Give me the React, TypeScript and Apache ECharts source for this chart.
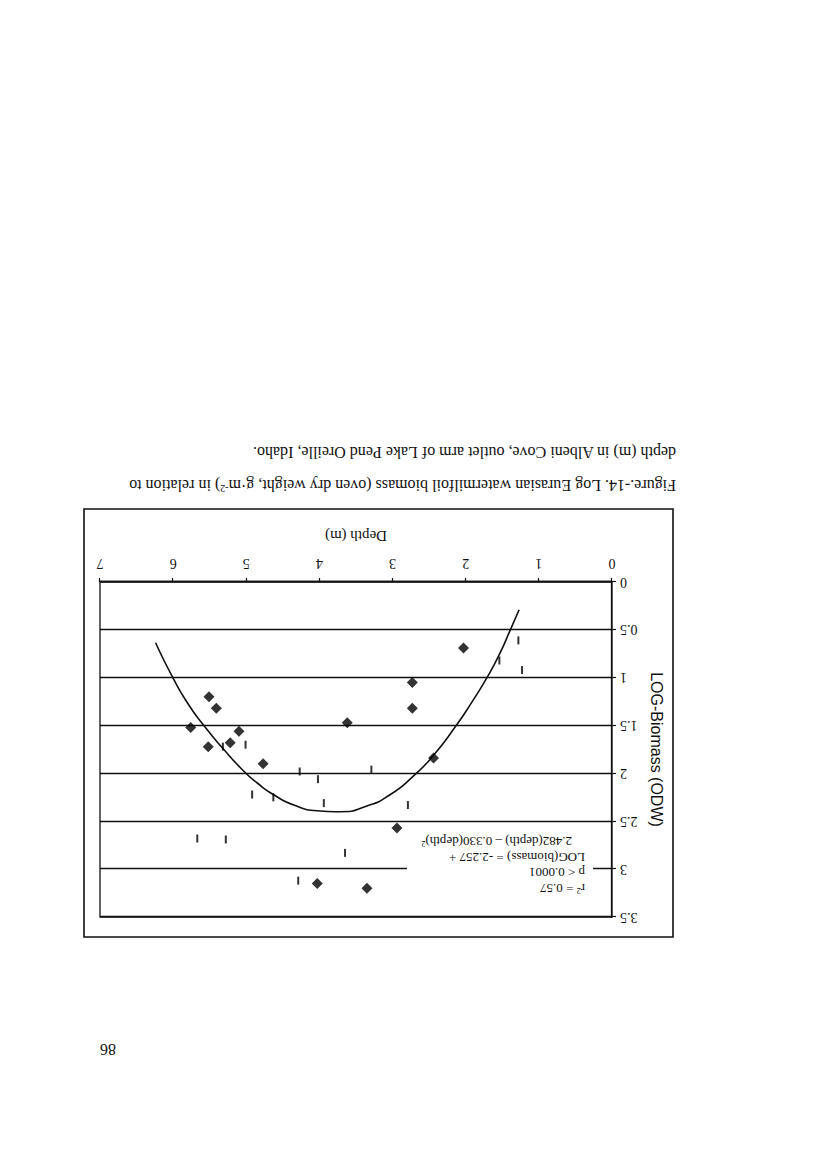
import React, { useEffect, useRef } from "react";
import * as echarts from "echarts";

// Depth (m), LOG-Biomass (ODW)
const diamondPoints: number[][] = [
  [2.03, 0.69], [2.73, 1.05], [2.73, 1.32], [2.44, 1.84], [3.62, 1.47],
  [5.51, 1.2], [5.41, 1.32], [5.76, 1.52], [5.1, 1.56], [5.52, 1.72],
  [5.22, 1.68], [4.77, 1.9], [2.94, 2.57], [4.03, 3.15], [3.35, 3.2],
];

const barPoints: number[][] = [
  [1.28, 0.61], [1.54, 0.82], [1.23, 0.92], [5.32, 1.72], [5.01, 1.7],
  [4.27, 1.98], [4.02, 2.06], [3.29, 1.96], [4.92, 2.22], [4.63, 2.25],
  [3.94, 2.31], [2.79, 2.33], [5.67, 2.68], [5.28, 2.69], [3.65, 2.83],
  [4.29, 3.12],
];

const fitCurve: number[][] = [
  [1.27, 0.29], [1.39, 0.5], [1.53, 0.74], [1.71, 1.0], [1.92, 1.26],
  [2.14, 1.51], [2.44, 1.81], [2.72, 2.03], [3.03, 2.22], [3.35, 2.34],
  [3.72, 2.4], [4.03, 2.39], [4.35, 2.33], [4.63, 2.22], [4.85, 2.1],
  [5.03, 1.98], [5.33, 1.73], [5.58, 1.5], [5.79, 1.28], [5.99, 1.02],
  [6.24, 0.635],
];

const captionLines: string[] = [
  "Figure.-14. Log Eurasian watermilfoil biomass (oven dry weight, g·m{sup|-2}) in relation to",
  "depth (m) in Albeni Cove, outlet arm of Lake Pend Oreille, Idaho.",
];

const equationLines: string[] = [
  "r{sup|2} = 0.57",
  "p < 0.0001",
  "LOG(biomass) = -2.257 +",
  "2.482(depth) – 0.330(depth){sup|2}",
];

const pageNumber = "86";

const INK = "#111111";
const SERIF = "'Liberation Serif', 'Times New Roman', serif";
const SANS = "'Liberation Sans', Arial, sans-serif";

export default function App() {
  const ref = useRef<HTMLDivElement>(null);

  useEffect(() => {
    if (!ref.current) return;
    const chart = echarts.init(ref.current, undefined, { renderer: "svg" });

    const eqTops = [281, 297, 312, 328];
    const eqX = [242, 242, 242, 255];

    const graphic: any[] = [
      {
        type: "rect",
        z: 1,
        shape: { x: 154, y: 232, width: 589, height: 428 },
        style: { fill: "none", stroke: INK, lineWidth: 1.6 },
      },
      {
        type: "rect",
        z: 100,
        shape: { x: 234, y: 268, width: 186, height: 72 },
        style: { fill: "#ffffff", stroke: "none" },
      },
      ...equationLines.map((t, i) => ({
        type: "text",
        z: 101,
        x: eqX[i],
        y: eqTops[i],
        style: {
          text: t,
          fontSize: 13,
          fontFamily: SERIF,
          fill: INK,
          align: "left",
          verticalAlign: "middle",
          rich: { sup: { fontSize: 8, fontFamily: SERIF, fill: INK, verticalAlign: "top", lineHeight: 8 } },
        },
      })),
      ...captionLines.map((t, i) => ({
        type: "text",
        z: 101,
        x: 151,
        y: 684 + i * 33,
        style: {
          text: t,
          fontSize: 16,
          fontFamily: SERIF,
          fill: INK,
          align: "left",
          verticalAlign: "middle",
          rich: { sup: { fontSize: 10, fontFamily: SERIF, fill: INK, verticalAlign: "top", lineHeight: 10 } },
        },
      })),
      {
        type: "text",
        z: 101,
        x: 719,
        y: 120,
        style: {
          text: pageNumber,
          fontSize: 16,
          fontFamily: SERIF,
          fill: INK,
          align: "center",
          verticalAlign: "middle",
        },
      },
    ];

    chart.setOption({
      animation: false,
      backgroundColor: "#ffffff",
      grid: {
        left: 215,
        top: 252,
        width: 512,
        height: 335,
        show: true,
        borderColor: INK,
        borderWidth: 1.3,
        backgroundColor: "transparent",
      },
      xAxis: {
        type: "value",
        min: 0,
        max: 7,
        interval: 1,
        name: "Depth (m)",
        nameLocation: "middle",
        nameGap: 39,
        nameTextStyle: { fontFamily: SERIF, fontSize: 15, color: INK },
        axisLine: { show: true, onZero: false, lineStyle: { color: INK, width: 1.3 } },
        axisTick: { show: true, length: 4, lineStyle: { color: INK, width: 1.2 } },
        axisLabel: { fontFamily: SERIF, fontSize: 14, color: INK, margin: 12 },
        splitLine: { show: false },
      },
      yAxis: {
        type: "value",
        min: 0,
        max: 3.5,
        interval: 0.5,
        name: "LOG-Biomass (ODW)",
        nameLocation: "middle",
        nameRotate: 90,
        nameGap: 32,
        nameTextStyle: { fontFamily: SANS, fontSize: 16, color: INK },
        axisLine: { show: true, onZero: false, lineStyle: { color: INK, width: 1.3 } },
        axisTick: { show: true, length: 4, lineStyle: { color: INK, width: 1.2 } },
        axisLabel: { fontFamily: SERIF, fontSize: 14, color: INK, margin: 8 },
        splitLine: { show: true, lineStyle: { color: INK, width: 1.3 } },
      },
      series: [
        {
          type: "line",
          name: "fit",
          data: fitCurve,
          smooth: 0.6,
          symbol: "none",
          lineStyle: { color: INK, width: 1.6 },
          z: 3,
        },
        {
          type: "scatter",
          name: "diamonds",
          data: diamondPoints,
          symbol: "diamond",
          symbolSize: 11,
          itemStyle: { color: "#000000" },
          z: 4,
        },
        {
          type: "scatter",
          name: "bars",
          data: barPoints,
          symbol: "rect",
          symbolSize: [2, 8],
          itemStyle: { color: "#000000" },
          z: 4,
        },
      ],
      graphic,
    });

    return () => {
      chart.dispose();
    };
  }, []);

  return (
    <div
      style={{
        position: "absolute",
        left: 0,
        top: 0,
        width: 827,
        height: 1169,
        background: "#ffffff",
        transform: "rotate(180deg)",
        transformOrigin: "50% 50%",
      }}
    >
      <div ref={ref} style={{ width: 827, height: 1169 }} />
    </div>
  );
}
